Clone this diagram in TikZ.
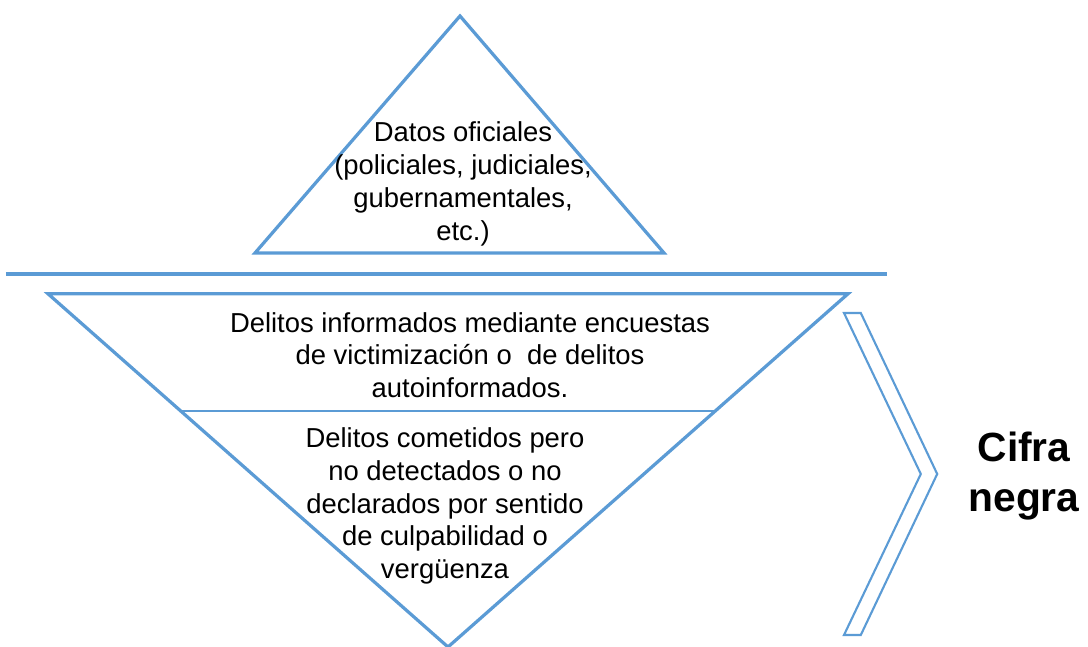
\documentclass[tikz,border=0pt]{standalone}
\usepackage{fontspec}
\setmainfont{Liberation Sans}
\definecolor{ofiazul}{HTML}{5B9BD5}
\tikzset{
  borde/.style={draw=ofiazul, line width=2.3pt, line join=miter},
  texto/.style={align=center, inner sep=0pt, font=\fontsize{19.5}{23.3}\selectfont}
}
\begin{document}
\begin{tikzpicture}
      \useasboundingbox (0,0) rectangle (27.2,16.175);
      
      \draw[borde] (11.5,15.775) -- (16.6,9.85) -- (6.375,9.85) -- cycle;
      \node[texto] (oficiales) at (11.575,11.575) {Datos oficiales\\(policiales, judiciales,\\gubernamentales,\\etc.)};
      
      \draw[borde] (0.15,9.325) -- (22.175,9.325);
      
      \draw[borde] (1.2,8.83) -- (21.2,8.83) -- (11.2,0) -- cycle;
      \draw[draw=ofiazul, line width=0.8pt] (4.52,5.9) -- (17.88,5.9);
      \node[texto] (encuestas) at (11.75,7.3) {Delitos informados mediante encuestas\\de victimizaci\'on o\ \ de delitos\\autoinformados.};
      \node[texto] (ocultos) at (11.125,3.525) {Delitos cometidos pero\\no detectados o no\\declarados por sentido\\de culpabilidad o\\verg\"uenza};
      
      \draw[draw=ofiazul, line width=1.5pt] (21.1,8.35) -- (21.52,8.35) -- (23.43,4.325) -- (21.52,0.3) -- (21.1,0.3) -- (23.02,4.325) -- cycle;
      \node[align=center, inner sep=0pt, font=\bfseries\fontsize{29}{35.6}\selectfont] (cifra) at (25.6,4.275) {Cifra\\negra};
\end{tikzpicture}
\end{document}
